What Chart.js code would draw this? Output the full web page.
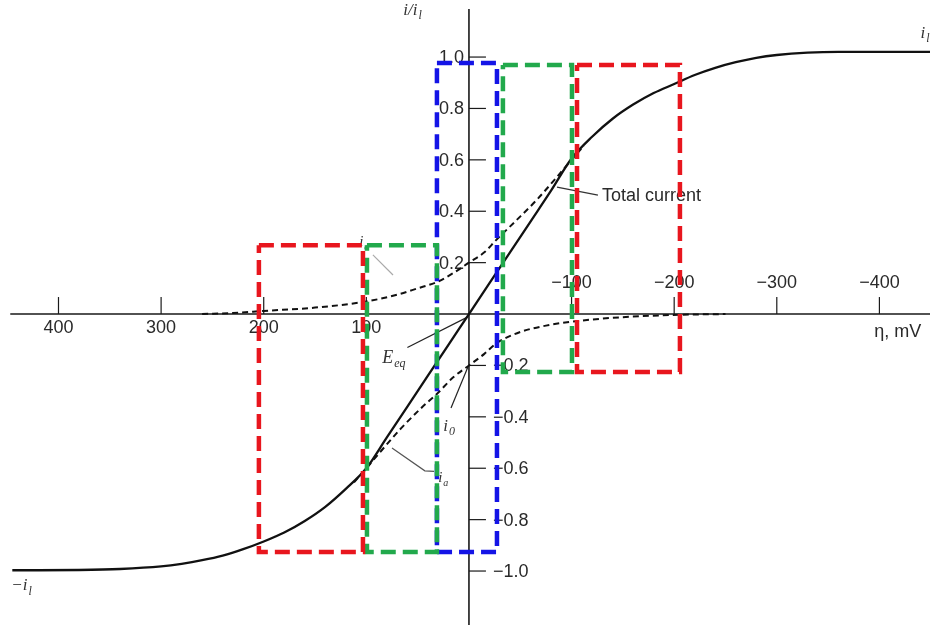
<!DOCTYPE html>
<html>
<head>
<meta charset="utf-8">
<title>Current–overpotential curve</title>
<script src="https://cdn.jsdelivr.net/npm/chart.js@4.4.1/dist/chart.umd.min.js"></script>
<style>
  html, body { margin: 0; padding: 0; background: #fff; }
  #wrap { position: relative; width: 930px; height: 625px; }
</style>
</head>
<body>
<div id="wrap"><canvas id="chart"></canvas></div>
<script>
// overpotential (mV) and normalised current i/il
const totalEta = [445, 420, 380, 340, 300, 280, 260, 240, 220, 200, 180, 160, 140, 120, 100, 80, 60, 40, 20, 0,
                  -20, -40, -60, -80, -100, -120, -140, -160, -180, -200, -220, -240, -260, -280, -300, -330, -360, -400, -457];
const totalI   = [-0.997, -0.997, -0.996, -0.992, -0.982, -0.972, -0.958, -0.94, -0.915, -0.885, -0.85, -0.805, -0.75, -0.68, -0.60, -0.48, -0.36, -0.24, -0.12, 0,
                  0.12, 0.24, 0.36, 0.48, 0.605, 0.69, 0.76, 0.815, 0.86, 0.895, 0.93, 0.958, 0.98, 0.997, 1.008, 1.017, 1.02, 1.02, 1.02];

// cathodic component
const cathEta = [260, 230, 200, 150, 103, 70, 50, 31, 15, 0, -15, -27, -45, -66, -85, -100, -112];
const cathI   = [0.0, 0.004, 0.012, 0.025, 0.047, 0.075, 0.1, 0.125, 0.16, 0.2, 0.24, 0.29, 0.36, 0.444, 0.53, 0.6, 0.655];

// anodic component
const anodEta = [112, 100, 85, 66, 45, 31, 15, 0, -15, -27, -50, -75, -100, -150, -205, -250];
const anodI   = [-0.655, -0.6, -0.53, -0.444, -0.36, -0.31, -0.245, -0.2, -0.155, -0.113, -0.07, -0.045, -0.03, -0.012, -0.003, 0.0];

// highlighted windows
const boxLeft   = [204.7, 99.4, 31.2, -33.1, -105.3];
const boxRight  = [103.3, 31.2, -27.3, -100.4, -205.6];
const boxTop    = [0.268, 0.268, 0.977, 0.969, 0.969];
const boxBottom = [-0.926, -0.926, -0.926, -0.226, -0.226];
const boxColors = ['#e8161e', '#22a94c', '#1414e6', '#22a94c', '#e8161e'];

const etaTicks = [400, 300, 200, 100, -100, -200, -300, -400];
const currentTicks = [1.0, 0.8, 0.6, 0.4, 0.2, -0.2, -0.4, -0.6, -0.8, -1.0];

const toPoints = (xs, ys) => xs.map((x, i) => ({ x: x, y: ys[i] }));
const minus = s => s.replace('-', '\u2212');

const datasets = [];
boxLeft.forEach((l, i) => {
  const r = boxRight[i], t = boxTop[i], b = boxBottom[i];
  datasets.push({
    data: [{x: l, y: t}, {x: r, y: t}, {x: r, y: b}, {x: l, y: b}, {x: l, y: t}],
    showLine: true, borderColor: boxColors[i], borderWidth: 4.5,
    borderDash: [15, 7], borderJoinStyle: 'miter', pointRadius: 0, tension: 0, order: 0
  });
});
datasets.push({
  data: toPoints(totalEta, totalI), showLine: true, borderColor: '#111', borderWidth: 2.3,
  pointRadius: 0, cubicInterpolationMode: 'monotone', order: 1
});
datasets.push({
  data: toPoints(cathEta, cathI), showLine: true, borderColor: '#111', borderWidth: 2,
  borderDash: [6, 4], pointRadius: 0, cubicInterpolationMode: 'monotone', order: 1
});
datasets.push({
  data: toPoints(anodEta, anodI), showLine: true, borderColor: '#111', borderWidth: 2,
  borderDash: [6, 4], pointRadius: 0, cubicInterpolationMode: 'monotone', order: 1
});

// draws the crossing axes, ticks and labels underneath the data
const crossAxes = {
  id: 'crossAxes',
  beforeDatasetsDraw(chart) {
    const ctx = chart.ctx;
    const xs = chart.scales.x, ys = chart.scales.y;
    const X = v => xs.getPixelForValue(v), Y = v => ys.getPixelForValue(v);
    const x0 = X(0), y0 = Y(0);
    ctx.save();
    ctx.strokeStyle = '#1a1a1a';
    ctx.lineWidth = 1.6;
    ctx.beginPath();
    ctx.moveTo(X(447), y0); ctx.lineTo(chart.width, y0);
    ctx.moveTo(x0, Y(1.187)); ctx.lineTo(x0, chart.height);
    ctx.stroke();

    ctx.lineWidth = 1.2;
    ctx.fillStyle = '#2a2a2a';
    ctx.font = '18px "Liberation Sans", Arial, sans-serif';
    etaTicks.forEach(v => {
      const px = X(v);
      ctx.beginPath(); ctx.moveTo(px, y0); ctx.lineTo(px, y0 - 17); ctx.stroke();
      ctx.textAlign = 'center';
      ctx.textBaseline = 'middle';
      ctx.fillText(minus(String(v)), px, v > 0 ? y0 + 14 : y0 - 31);
    });
    currentTicks.forEach(v => {
      const py = Y(v);
      ctx.beginPath(); ctx.moveTo(x0, py); ctx.lineTo(x0 + 17, py); ctx.stroke();
      ctx.textBaseline = 'middle';
      if (v > 0) { ctx.textAlign = 'right'; ctx.fillText(v.toFixed(1), x0 - 5, py + 1); }
      else { ctx.textAlign = 'left'; ctx.fillText(minus(v.toFixed(1)), x0 + 24, py + 1); }
    });
    ctx.textAlign = 'left';
    ctx.fillText('\u03b7, mV', X(-395), Y(-0.07));
    ctx.fillText('Total current', X(-129.6), Y(0.459));

    // leader lines
    const lead = (pts, color) => {
      ctx.strokeStyle = color; ctx.lineWidth = 1.2;
      ctx.beginPath();
      pts.forEach((p, i) => i ? ctx.lineTo(X(p[0]), Y(p[1])) : ctx.moveTo(X(p[0]), Y(p[1])));
      ctx.stroke();
    };
    lead([[-85.8, 0.494], [-125.7, 0.463]], '#333');
    lead([[60, -0.13], [1.5, -0.012]], '#222');
    lead([[1, -0.206], [17.5, -0.366]], '#222');
    lead([[75, -0.521], [43, -0.61], [34, -0.612]], '#555');
    lead([[93.6, 0.23], [74, 0.152]], '#aaa');

    // italic symbols with subscripts
    const sym = (main, sub, eta, cur, size) => {
      ctx.textAlign = 'left'; ctx.textBaseline = 'alphabetic';
      ctx.font = 'italic ' + size + 'px "Liberation Serif", "Times New Roman", serif';
      const px = X(eta), py = Y(cur);
      ctx.fillText(main, px, py);
      const w = ctx.measureText(main).width;
      ctx.font = 'italic ' + Math.round(size * 0.68) + 'px "Liberation Serif", "Times New Roman", serif';
      ctx.fillText(sub, px + w + 1, py + size * 0.25);
    };
    ctx.fillStyle = '#333';
    sym('i/i', 'l', 64, 1.165, 17);
    sym('i', 'l', -440, 1.075, 17);
    sym('\u2212i', 'l', 446, -1.075, 17);
    sym('E', 'eq', 84.5, -0.19, 18);
    sym('i', '0', 25, -0.455, 17);
    sym('i', 'a', 30, -0.655, 15);
    sym('i', 'c', 107, 0.265, 15);
    ctx.restore();
  }
};

new Chart(document.getElementById('chart'), {
  type: 'scatter',
  data: { datasets: datasets },
  options: {
    responsive: true,
    maintainAspectRatio: false,
    animation: false,
    layout: { padding: 0 },
    plugins: { legend: { display: false }, tooltip: { enabled: false } },
    scales: {
      x: { type: 'linear', reverse: true, min: -449.3, max: 457, display: false },
      y: { type: 'linear', min: -1.210, max: 1.222, display: false }
    }
  },
  plugins: [crossAxes]
});
</script>
</body>
</html>
